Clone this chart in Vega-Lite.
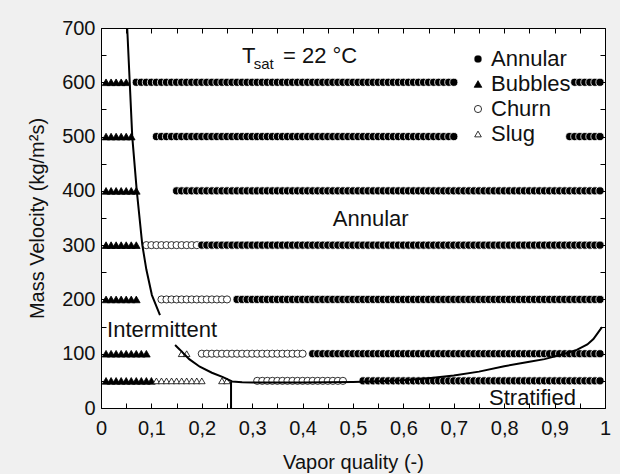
{
"$schema": "https://vega.github.io/schema/vega-lite/v6.json",
"width": 504, "height": 380,
"autosize": {"type": "none"},
"padding": {"left": 101, "top": 28, "right": 15, "bottom": 66},
"background": "#f0f0f0",
"config": {
  "view": {"stroke": "black", "strokeWidth": 1, "fill": "white"},
  "font": "Liberation Sans",
  "axis": {"labelFont": "Liberation Sans", "titleFont": "Liberation Sans", "labelFontSize": 20, "titleFontSize": 20, "titleFontWeight": "normal", "labelColor": "#111", "titleColor": "#111", "domain": false, "grid": false, "labelFlush": false, "labelOverlap": false}
},
"datasets": {
"obs": [
{"q":0.01,"G":600,"regime":"Bubbles"},{"q":0.02,"G":600,"regime":"Bubbles"},{"q":0.03,"G":600,"regime":"Bubbles"},{"q":0.04,"G":600,"regime":"Bubbles"},{"q":0.05,"G":600,"regime":"Bubbles"},
{"q":0.07,"G":600,"regime":"Annular"},{"q":0.08,"G":600,"regime":"Annular"},{"q":0.09,"G":600,"regime":"Annular"},{"q":0.10,"G":600,"regime":"Annular"},{"q":0.11,"G":600,"regime":"Annular"},{"q":0.12,"G":600,"regime":"Annular"},{"q":0.13,"G":600,"regime":"Annular"},{"q":0.14,"G":600,"regime":"Annular"},{"q":0.15,"G":600,"regime":"Annular"},{"q":0.16,"G":600,"regime":"Annular"},{"q":0.17,"G":600,"regime":"Annular"},{"q":0.18,"G":600,"regime":"Annular"},{"q":0.19,"G":600,"regime":"Annular"},{"q":0.20,"G":600,"regime":"Annular"},{"q":0.21,"G":600,"regime":"Annular"},{"q":0.22,"G":600,"regime":"Annular"},{"q":0.23,"G":600,"regime":"Annular"},{"q":0.24,"G":600,"regime":"Annular"},{"q":0.25,"G":600,"regime":"Annular"},{"q":0.26,"G":600,"regime":"Annular"},{"q":0.27,"G":600,"regime":"Annular"},{"q":0.28,"G":600,"regime":"Annular"},{"q":0.29,"G":600,"regime":"Annular"},{"q":0.30,"G":600,"regime":"Annular"},{"q":0.31,"G":600,"regime":"Annular"},{"q":0.32,"G":600,"regime":"Annular"},{"q":0.33,"G":600,"regime":"Annular"},{"q":0.34,"G":600,"regime":"Annular"},{"q":0.35,"G":600,"regime":"Annular"},{"q":0.36,"G":600,"regime":"Annular"},{"q":0.37,"G":600,"regime":"Annular"},{"q":0.38,"G":600,"regime":"Annular"},{"q":0.39,"G":600,"regime":"Annular"},{"q":0.40,"G":600,"regime":"Annular"},{"q":0.41,"G":600,"regime":"Annular"},{"q":0.42,"G":600,"regime":"Annular"},{"q":0.43,"G":600,"regime":"Annular"},{"q":0.44,"G":600,"regime":"Annular"},{"q":0.45,"G":600,"regime":"Annular"},{"q":0.46,"G":600,"regime":"Annular"},{"q":0.47,"G":600,"regime":"Annular"},{"q":0.48,"G":600,"regime":"Annular"},{"q":0.49,"G":600,"regime":"Annular"},{"q":0.50,"G":600,"regime":"Annular"},{"q":0.51,"G":600,"regime":"Annular"},{"q":0.52,"G":600,"regime":"Annular"},{"q":0.53,"G":600,"regime":"Annular"},{"q":0.54,"G":600,"regime":"Annular"},{"q":0.55,"G":600,"regime":"Annular"},{"q":0.56,"G":600,"regime":"Annular"},{"q":0.57,"G":600,"regime":"Annular"},{"q":0.58,"G":600,"regime":"Annular"},{"q":0.59,"G":600,"regime":"Annular"},{"q":0.60,"G":600,"regime":"Annular"},{"q":0.61,"G":600,"regime":"Annular"},{"q":0.62,"G":600,"regime":"Annular"},{"q":0.63,"G":600,"regime":"Annular"},{"q":0.64,"G":600,"regime":"Annular"},{"q":0.65,"G":600,"regime":"Annular"},{"q":0.66,"G":600,"regime":"Annular"},{"q":0.67,"G":600,"regime":"Annular"},{"q":0.68,"G":600,"regime":"Annular"},{"q":0.69,"G":600,"regime":"Annular"},{"q":0.70,"G":600,"regime":"Annular"},
{"q":0.94,"G":600,"regime":"Annular"},{"q":0.95,"G":600,"regime":"Annular"},{"q":0.96,"G":600,"regime":"Annular"},{"q":0.97,"G":600,"regime":"Annular"},{"q":0.98,"G":600,"regime":"Annular"},{"q":0.99,"G":600,"regime":"Annular"},
{"q":0.01,"G":500,"regime":"Bubbles"},{"q":0.02,"G":500,"regime":"Bubbles"},{"q":0.03,"G":500,"regime":"Bubbles"},{"q":0.04,"G":500,"regime":"Bubbles"},{"q":0.05,"G":500,"regime":"Bubbles"},{"q":0.06,"G":500,"regime":"Bubbles"},
{"q":0.11,"G":500,"regime":"Annular"},{"q":0.12,"G":500,"regime":"Annular"},{"q":0.13,"G":500,"regime":"Annular"},{"q":0.14,"G":500,"regime":"Annular"},{"q":0.15,"G":500,"regime":"Annular"},{"q":0.16,"G":500,"regime":"Annular"},{"q":0.17,"G":500,"regime":"Annular"},{"q":0.18,"G":500,"regime":"Annular"},{"q":0.19,"G":500,"regime":"Annular"},{"q":0.20,"G":500,"regime":"Annular"},{"q":0.21,"G":500,"regime":"Annular"},{"q":0.22,"G":500,"regime":"Annular"},{"q":0.23,"G":500,"regime":"Annular"},{"q":0.24,"G":500,"regime":"Annular"},{"q":0.25,"G":500,"regime":"Annular"},{"q":0.26,"G":500,"regime":"Annular"},{"q":0.27,"G":500,"regime":"Annular"},{"q":0.28,"G":500,"regime":"Annular"},{"q":0.29,"G":500,"regime":"Annular"},{"q":0.30,"G":500,"regime":"Annular"},{"q":0.31,"G":500,"regime":"Annular"},{"q":0.32,"G":500,"regime":"Annular"},{"q":0.33,"G":500,"regime":"Annular"},{"q":0.34,"G":500,"regime":"Annular"},{"q":0.35,"G":500,"regime":"Annular"},{"q":0.36,"G":500,"regime":"Annular"},{"q":0.37,"G":500,"regime":"Annular"},{"q":0.38,"G":500,"regime":"Annular"},{"q":0.39,"G":500,"regime":"Annular"},{"q":0.40,"G":500,"regime":"Annular"},{"q":0.41,"G":500,"regime":"Annular"},{"q":0.42,"G":500,"regime":"Annular"},{"q":0.43,"G":500,"regime":"Annular"},{"q":0.44,"G":500,"regime":"Annular"},{"q":0.45,"G":500,"regime":"Annular"},{"q":0.46,"G":500,"regime":"Annular"},{"q":0.47,"G":500,"regime":"Annular"},{"q":0.48,"G":500,"regime":"Annular"},{"q":0.49,"G":500,"regime":"Annular"},{"q":0.50,"G":500,"regime":"Annular"},{"q":0.51,"G":500,"regime":"Annular"},{"q":0.52,"G":500,"regime":"Annular"},{"q":0.53,"G":500,"regime":"Annular"},{"q":0.54,"G":500,"regime":"Annular"},{"q":0.55,"G":500,"regime":"Annular"},{"q":0.56,"G":500,"regime":"Annular"},{"q":0.57,"G":500,"regime":"Annular"},{"q":0.58,"G":500,"regime":"Annular"},{"q":0.59,"G":500,"regime":"Annular"},{"q":0.60,"G":500,"regime":"Annular"},{"q":0.61,"G":500,"regime":"Annular"},{"q":0.62,"G":500,"regime":"Annular"},{"q":0.63,"G":500,"regime":"Annular"},{"q":0.64,"G":500,"regime":"Annular"},{"q":0.65,"G":500,"regime":"Annular"},{"q":0.66,"G":500,"regime":"Annular"},{"q":0.67,"G":500,"regime":"Annular"},{"q":0.68,"G":500,"regime":"Annular"},{"q":0.69,"G":500,"regime":"Annular"},{"q":0.70,"G":500,"regime":"Annular"},
{"q":0.93,"G":500,"regime":"Annular"},{"q":0.94,"G":500,"regime":"Annular"},{"q":0.95,"G":500,"regime":"Annular"},{"q":0.96,"G":500,"regime":"Annular"},{"q":0.97,"G":500,"regime":"Annular"},{"q":0.98,"G":500,"regime":"Annular"},{"q":0.99,"G":500,"regime":"Annular"},
{"q":0.01,"G":400,"regime":"Bubbles"},{"q":0.02,"G":400,"regime":"Bubbles"},{"q":0.03,"G":400,"regime":"Bubbles"},{"q":0.04,"G":400,"regime":"Bubbles"},{"q":0.05,"G":400,"regime":"Bubbles"},{"q":0.06,"G":400,"regime":"Bubbles"},{"q":0.07,"G":400,"regime":"Bubbles"},
{"q":0.15,"G":400,"regime":"Annular"},{"q":0.16,"G":400,"regime":"Annular"},{"q":0.17,"G":400,"regime":"Annular"},{"q":0.18,"G":400,"regime":"Annular"},{"q":0.19,"G":400,"regime":"Annular"},{"q":0.20,"G":400,"regime":"Annular"},{"q":0.21,"G":400,"regime":"Annular"},{"q":0.22,"G":400,"regime":"Annular"},{"q":0.23,"G":400,"regime":"Annular"},{"q":0.24,"G":400,"regime":"Annular"},{"q":0.25,"G":400,"regime":"Annular"},{"q":0.26,"G":400,"regime":"Annular"},{"q":0.27,"G":400,"regime":"Annular"},{"q":0.28,"G":400,"regime":"Annular"},{"q":0.29,"G":400,"regime":"Annular"},{"q":0.30,"G":400,"regime":"Annular"},{"q":0.31,"G":400,"regime":"Annular"},{"q":0.32,"G":400,"regime":"Annular"},{"q":0.33,"G":400,"regime":"Annular"},{"q":0.34,"G":400,"regime":"Annular"},{"q":0.35,"G":400,"regime":"Annular"},{"q":0.36,"G":400,"regime":"Annular"},{"q":0.37,"G":400,"regime":"Annular"},{"q":0.38,"G":400,"regime":"Annular"},{"q":0.39,"G":400,"regime":"Annular"},{"q":0.40,"G":400,"regime":"Annular"},{"q":0.41,"G":400,"regime":"Annular"},{"q":0.42,"G":400,"regime":"Annular"},{"q":0.43,"G":400,"regime":"Annular"},{"q":0.44,"G":400,"regime":"Annular"},{"q":0.45,"G":400,"regime":"Annular"},{"q":0.46,"G":400,"regime":"Annular"},{"q":0.47,"G":400,"regime":"Annular"},{"q":0.48,"G":400,"regime":"Annular"},{"q":0.49,"G":400,"regime":"Annular"},{"q":0.50,"G":400,"regime":"Annular"},{"q":0.51,"G":400,"regime":"Annular"},{"q":0.52,"G":400,"regime":"Annular"},{"q":0.53,"G":400,"regime":"Annular"},{"q":0.54,"G":400,"regime":"Annular"},{"q":0.55,"G":400,"regime":"Annular"},{"q":0.56,"G":400,"regime":"Annular"},{"q":0.57,"G":400,"regime":"Annular"},{"q":0.58,"G":400,"regime":"Annular"},{"q":0.59,"G":400,"regime":"Annular"},{"q":0.60,"G":400,"regime":"Annular"},{"q":0.61,"G":400,"regime":"Annular"},{"q":0.62,"G":400,"regime":"Annular"},{"q":0.63,"G":400,"regime":"Annular"},{"q":0.64,"G":400,"regime":"Annular"},{"q":0.65,"G":400,"regime":"Annular"},{"q":0.66,"G":400,"regime":"Annular"},{"q":0.67,"G":400,"regime":"Annular"},{"q":0.68,"G":400,"regime":"Annular"},{"q":0.69,"G":400,"regime":"Annular"},{"q":0.70,"G":400,"regime":"Annular"},{"q":0.71,"G":400,"regime":"Annular"},{"q":0.72,"G":400,"regime":"Annular"},{"q":0.73,"G":400,"regime":"Annular"},{"q":0.74,"G":400,"regime":"Annular"},{"q":0.75,"G":400,"regime":"Annular"},{"q":0.76,"G":400,"regime":"Annular"},{"q":0.77,"G":400,"regime":"Annular"},{"q":0.78,"G":400,"regime":"Annular"},{"q":0.79,"G":400,"regime":"Annular"},{"q":0.80,"G":400,"regime":"Annular"},{"q":0.81,"G":400,"regime":"Annular"},{"q":0.82,"G":400,"regime":"Annular"},{"q":0.83,"G":400,"regime":"Annular"},{"q":0.84,"G":400,"regime":"Annular"},{"q":0.85,"G":400,"regime":"Annular"},{"q":0.86,"G":400,"regime":"Annular"},{"q":0.87,"G":400,"regime":"Annular"},{"q":0.88,"G":400,"regime":"Annular"},{"q":0.89,"G":400,"regime":"Annular"},{"q":0.90,"G":400,"regime":"Annular"},{"q":0.91,"G":400,"regime":"Annular"},{"q":0.92,"G":400,"regime":"Annular"},{"q":0.93,"G":400,"regime":"Annular"},{"q":0.94,"G":400,"regime":"Annular"},{"q":0.95,"G":400,"regime":"Annular"},{"q":0.96,"G":400,"regime":"Annular"},{"q":0.97,"G":400,"regime":"Annular"},{"q":0.98,"G":400,"regime":"Annular"},{"q":0.99,"G":400,"regime":"Annular"},
{"q":0.01,"G":300,"regime":"Bubbles"},{"q":0.02,"G":300,"regime":"Bubbles"},{"q":0.03,"G":300,"regime":"Bubbles"},{"q":0.04,"G":300,"regime":"Bubbles"},{"q":0.05,"G":300,"regime":"Bubbles"},{"q":0.06,"G":300,"regime":"Bubbles"},{"q":0.07,"G":300,"regime":"Bubbles"},
{"q":0.09,"G":300,"regime":"Churn"},{"q":0.10,"G":300,"regime":"Churn"},{"q":0.11,"G":300,"regime":"Churn"},{"q":0.12,"G":300,"regime":"Churn"},{"q":0.13,"G":300,"regime":"Churn"},{"q":0.14,"G":300,"regime":"Churn"},{"q":0.15,"G":300,"regime":"Churn"},{"q":0.16,"G":300,"regime":"Churn"},{"q":0.17,"G":300,"regime":"Churn"},{"q":0.18,"G":300,"regime":"Churn"},{"q":0.19,"G":300,"regime":"Churn"},
{"q":0.20,"G":300,"regime":"Annular"},{"q":0.21,"G":300,"regime":"Annular"},{"q":0.22,"G":300,"regime":"Annular"},{"q":0.23,"G":300,"regime":"Annular"},{"q":0.24,"G":300,"regime":"Annular"},{"q":0.25,"G":300,"regime":"Annular"},{"q":0.26,"G":300,"regime":"Annular"},{"q":0.27,"G":300,"regime":"Annular"},{"q":0.28,"G":300,"regime":"Annular"},{"q":0.29,"G":300,"regime":"Annular"},{"q":0.30,"G":300,"regime":"Annular"},{"q":0.31,"G":300,"regime":"Annular"},{"q":0.32,"G":300,"regime":"Annular"},{"q":0.33,"G":300,"regime":"Annular"},{"q":0.34,"G":300,"regime":"Annular"},{"q":0.35,"G":300,"regime":"Annular"},{"q":0.36,"G":300,"regime":"Annular"},{"q":0.37,"G":300,"regime":"Annular"},{"q":0.38,"G":300,"regime":"Annular"},{"q":0.39,"G":300,"regime":"Annular"},{"q":0.40,"G":300,"regime":"Annular"},{"q":0.41,"G":300,"regime":"Annular"},{"q":0.42,"G":300,"regime":"Annular"},{"q":0.43,"G":300,"regime":"Annular"},{"q":0.44,"G":300,"regime":"Annular"},{"q":0.45,"G":300,"regime":"Annular"},{"q":0.46,"G":300,"regime":"Annular"},{"q":0.47,"G":300,"regime":"Annular"},{"q":0.48,"G":300,"regime":"Annular"},{"q":0.49,"G":300,"regime":"Annular"},{"q":0.50,"G":300,"regime":"Annular"},{"q":0.51,"G":300,"regime":"Annular"},{"q":0.52,"G":300,"regime":"Annular"},{"q":0.53,"G":300,"regime":"Annular"},{"q":0.54,"G":300,"regime":"Annular"},{"q":0.55,"G":300,"regime":"Annular"},{"q":0.56,"G":300,"regime":"Annular"},{"q":0.57,"G":300,"regime":"Annular"},{"q":0.58,"G":300,"regime":"Annular"},{"q":0.59,"G":300,"regime":"Annular"},{"q":0.60,"G":300,"regime":"Annular"},{"q":0.61,"G":300,"regime":"Annular"},{"q":0.62,"G":300,"regime":"Annular"},{"q":0.63,"G":300,"regime":"Annular"},{"q":0.64,"G":300,"regime":"Annular"},{"q":0.65,"G":300,"regime":"Annular"},{"q":0.66,"G":300,"regime":"Annular"},{"q":0.67,"G":300,"regime":"Annular"},{"q":0.68,"G":300,"regime":"Annular"},{"q":0.69,"G":300,"regime":"Annular"},{"q":0.70,"G":300,"regime":"Annular"},{"q":0.71,"G":300,"regime":"Annular"},{"q":0.72,"G":300,"regime":"Annular"},{"q":0.73,"G":300,"regime":"Annular"},{"q":0.74,"G":300,"regime":"Annular"},{"q":0.75,"G":300,"regime":"Annular"},{"q":0.76,"G":300,"regime":"Annular"},{"q":0.77,"G":300,"regime":"Annular"},{"q":0.78,"G":300,"regime":"Annular"},{"q":0.79,"G":300,"regime":"Annular"},{"q":0.80,"G":300,"regime":"Annular"},{"q":0.81,"G":300,"regime":"Annular"},{"q":0.82,"G":300,"regime":"Annular"},{"q":0.83,"G":300,"regime":"Annular"},{"q":0.84,"G":300,"regime":"Annular"},{"q":0.85,"G":300,"regime":"Annular"},{"q":0.86,"G":300,"regime":"Annular"},{"q":0.87,"G":300,"regime":"Annular"},{"q":0.88,"G":300,"regime":"Annular"},{"q":0.89,"G":300,"regime":"Annular"},{"q":0.90,"G":300,"regime":"Annular"},{"q":0.91,"G":300,"regime":"Annular"},{"q":0.92,"G":300,"regime":"Annular"},{"q":0.93,"G":300,"regime":"Annular"},{"q":0.94,"G":300,"regime":"Annular"},{"q":0.95,"G":300,"regime":"Annular"},{"q":0.96,"G":300,"regime":"Annular"},{"q":0.97,"G":300,"regime":"Annular"},{"q":0.98,"G":300,"regime":"Annular"},{"q":0.99,"G":300,"regime":"Annular"},
{"q":0.01,"G":200,"regime":"Bubbles"},{"q":0.02,"G":200,"regime":"Bubbles"},{"q":0.03,"G":200,"regime":"Bubbles"},{"q":0.04,"G":200,"regime":"Bubbles"},{"q":0.05,"G":200,"regime":"Bubbles"},{"q":0.06,"G":200,"regime":"Bubbles"},{"q":0.07,"G":200,"regime":"Bubbles"},
{"q":0.12,"G":200,"regime":"Churn"},{"q":0.13,"G":200,"regime":"Churn"},{"q":0.14,"G":200,"regime":"Churn"},{"q":0.15,"G":200,"regime":"Churn"},{"q":0.16,"G":200,"regime":"Churn"},{"q":0.17,"G":200,"regime":"Churn"},{"q":0.18,"G":200,"regime":"Churn"},{"q":0.19,"G":200,"regime":"Churn"},{"q":0.20,"G":200,"regime":"Churn"},{"q":0.21,"G":200,"regime":"Churn"},{"q":0.22,"G":200,"regime":"Churn"},{"q":0.23,"G":200,"regime":"Churn"},{"q":0.24,"G":200,"regime":"Churn"},{"q":0.25,"G":200,"regime":"Churn"},
{"q":0.27,"G":200,"regime":"Annular"},{"q":0.28,"G":200,"regime":"Annular"},{"q":0.29,"G":200,"regime":"Annular"},{"q":0.30,"G":200,"regime":"Annular"},{"q":0.31,"G":200,"regime":"Annular"},{"q":0.32,"G":200,"regime":"Annular"},{"q":0.33,"G":200,"regime":"Annular"},{"q":0.34,"G":200,"regime":"Annular"},{"q":0.35,"G":200,"regime":"Annular"},{"q":0.36,"G":200,"regime":"Annular"},{"q":0.37,"G":200,"regime":"Annular"},{"q":0.38,"G":200,"regime":"Annular"},{"q":0.39,"G":200,"regime":"Annular"},{"q":0.40,"G":200,"regime":"Annular"},{"q":0.41,"G":200,"regime":"Annular"},{"q":0.42,"G":200,"regime":"Annular"},{"q":0.43,"G":200,"regime":"Annular"},{"q":0.44,"G":200,"regime":"Annular"},{"q":0.45,"G":200,"regime":"Annular"},{"q":0.46,"G":200,"regime":"Annular"},{"q":0.47,"G":200,"regime":"Annular"},{"q":0.48,"G":200,"regime":"Annular"},{"q":0.49,"G":200,"regime":"Annular"},{"q":0.50,"G":200,"regime":"Annular"},{"q":0.51,"G":200,"regime":"Annular"},{"q":0.52,"G":200,"regime":"Annular"},{"q":0.53,"G":200,"regime":"Annular"},{"q":0.54,"G":200,"regime":"Annular"},{"q":0.55,"G":200,"regime":"Annular"},{"q":0.56,"G":200,"regime":"Annular"},{"q":0.57,"G":200,"regime":"Annular"},{"q":0.58,"G":200,"regime":"Annular"},{"q":0.59,"G":200,"regime":"Annular"},{"q":0.60,"G":200,"regime":"Annular"},{"q":0.61,"G":200,"regime":"Annular"},{"q":0.62,"G":200,"regime":"Annular"},{"q":0.63,"G":200,"regime":"Annular"},{"q":0.64,"G":200,"regime":"Annular"},{"q":0.65,"G":200,"regime":"Annular"},{"q":0.66,"G":200,"regime":"Annular"},{"q":0.67,"G":200,"regime":"Annular"},{"q":0.68,"G":200,"regime":"Annular"},{"q":0.69,"G":200,"regime":"Annular"},{"q":0.70,"G":200,"regime":"Annular"},{"q":0.71,"G":200,"regime":"Annular"},{"q":0.72,"G":200,"regime":"Annular"},{"q":0.73,"G":200,"regime":"Annular"},{"q":0.74,"G":200,"regime":"Annular"},{"q":0.75,"G":200,"regime":"Annular"},{"q":0.76,"G":200,"regime":"Annular"},{"q":0.77,"G":200,"regime":"Annular"},{"q":0.78,"G":200,"regime":"Annular"},{"q":0.79,"G":200,"regime":"Annular"},{"q":0.80,"G":200,"regime":"Annular"},{"q":0.81,"G":200,"regime":"Annular"},{"q":0.82,"G":200,"regime":"Annular"},{"q":0.83,"G":200,"regime":"Annular"},{"q":0.84,"G":200,"regime":"Annular"},{"q":0.85,"G":200,"regime":"Annular"},{"q":0.86,"G":200,"regime":"Annular"},{"q":0.87,"G":200,"regime":"Annular"},{"q":0.88,"G":200,"regime":"Annular"},{"q":0.89,"G":200,"regime":"Annular"},{"q":0.90,"G":200,"regime":"Annular"},{"q":0.91,"G":200,"regime":"Annular"},{"q":0.92,"G":200,"regime":"Annular"},{"q":0.93,"G":200,"regime":"Annular"},{"q":0.94,"G":200,"regime":"Annular"},{"q":0.95,"G":200,"regime":"Annular"},{"q":0.96,"G":200,"regime":"Annular"},{"q":0.97,"G":200,"regime":"Annular"},{"q":0.98,"G":200,"regime":"Annular"},{"q":0.99,"G":200,"regime":"Annular"},
{"q":0.01,"G":100,"regime":"Bubbles"},{"q":0.02,"G":100,"regime":"Bubbles"},{"q":0.03,"G":100,"regime":"Bubbles"},{"q":0.04,"G":100,"regime":"Bubbles"},{"q":0.05,"G":100,"regime":"Bubbles"},{"q":0.06,"G":100,"regime":"Bubbles"},{"q":0.07,"G":100,"regime":"Bubbles"},{"q":0.08,"G":100,"regime":"Bubbles"},{"q":0.09,"G":100,"regime":"Bubbles"},
{"q":0.16,"G":100,"regime":"Slug"},{"q":0.17,"G":100,"regime":"Slug"},
{"q":0.20,"G":100,"regime":"Churn"},{"q":0.21,"G":100,"regime":"Churn"},{"q":0.22,"G":100,"regime":"Churn"},{"q":0.23,"G":100,"regime":"Churn"},{"q":0.24,"G":100,"regime":"Churn"},{"q":0.25,"G":100,"regime":"Churn"},{"q":0.26,"G":100,"regime":"Churn"},{"q":0.27,"G":100,"regime":"Churn"},{"q":0.28,"G":100,"regime":"Churn"},{"q":0.29,"G":100,"regime":"Churn"},{"q":0.30,"G":100,"regime":"Churn"},{"q":0.31,"G":100,"regime":"Churn"},{"q":0.32,"G":100,"regime":"Churn"},{"q":0.33,"G":100,"regime":"Churn"},{"q":0.34,"G":100,"regime":"Churn"},{"q":0.35,"G":100,"regime":"Churn"},{"q":0.36,"G":100,"regime":"Churn"},{"q":0.37,"G":100,"regime":"Churn"},{"q":0.38,"G":100,"regime":"Churn"},{"q":0.39,"G":100,"regime":"Churn"},{"q":0.40,"G":100,"regime":"Churn"},
{"q":0.42,"G":100,"regime":"Annular"},{"q":0.43,"G":100,"regime":"Annular"},{"q":0.44,"G":100,"regime":"Annular"},{"q":0.45,"G":100,"regime":"Annular"},{"q":0.46,"G":100,"regime":"Annular"},{"q":0.47,"G":100,"regime":"Annular"},{"q":0.48,"G":100,"regime":"Annular"},{"q":0.49,"G":100,"regime":"Annular"},{"q":0.50,"G":100,"regime":"Annular"},{"q":0.51,"G":100,"regime":"Annular"},{"q":0.52,"G":100,"regime":"Annular"},{"q":0.53,"G":100,"regime":"Annular"},{"q":0.54,"G":100,"regime":"Annular"},{"q":0.55,"G":100,"regime":"Annular"},{"q":0.56,"G":100,"regime":"Annular"},{"q":0.57,"G":100,"regime":"Annular"},{"q":0.58,"G":100,"regime":"Annular"},{"q":0.59,"G":100,"regime":"Annular"},{"q":0.60,"G":100,"regime":"Annular"},{"q":0.61,"G":100,"regime":"Annular"},{"q":0.62,"G":100,"regime":"Annular"},{"q":0.63,"G":100,"regime":"Annular"},{"q":0.64,"G":100,"regime":"Annular"},{"q":0.65,"G":100,"regime":"Annular"},{"q":0.66,"G":100,"regime":"Annular"},{"q":0.67,"G":100,"regime":"Annular"},{"q":0.68,"G":100,"regime":"Annular"},{"q":0.69,"G":100,"regime":"Annular"},{"q":0.70,"G":100,"regime":"Annular"},{"q":0.71,"G":100,"regime":"Annular"},{"q":0.72,"G":100,"regime":"Annular"},{"q":0.73,"G":100,"regime":"Annular"},{"q":0.74,"G":100,"regime":"Annular"},{"q":0.75,"G":100,"regime":"Annular"},{"q":0.76,"G":100,"regime":"Annular"},{"q":0.77,"G":100,"regime":"Annular"},{"q":0.78,"G":100,"regime":"Annular"},{"q":0.79,"G":100,"regime":"Annular"},{"q":0.80,"G":100,"regime":"Annular"},{"q":0.81,"G":100,"regime":"Annular"},{"q":0.82,"G":100,"regime":"Annular"},{"q":0.83,"G":100,"regime":"Annular"},{"q":0.84,"G":100,"regime":"Annular"},{"q":0.85,"G":100,"regime":"Annular"},{"q":0.86,"G":100,"regime":"Annular"},{"q":0.87,"G":100,"regime":"Annular"},{"q":0.88,"G":100,"regime":"Annular"},{"q":0.89,"G":100,"regime":"Annular"},{"q":0.90,"G":100,"regime":"Annular"},{"q":0.91,"G":100,"regime":"Annular"},{"q":0.92,"G":100,"regime":"Annular"},{"q":0.93,"G":100,"regime":"Annular"},{"q":0.94,"G":100,"regime":"Annular"},{"q":0.95,"G":100,"regime":"Annular"},{"q":0.96,"G":100,"regime":"Annular"},{"q":0.97,"G":100,"regime":"Annular"},{"q":0.98,"G":100,"regime":"Annular"},{"q":0.99,"G":100,"regime":"Annular"},
{"q":0.01,"G":50,"regime":"Bubbles"},{"q":0.02,"G":50,"regime":"Bubbles"},{"q":0.03,"G":50,"regime":"Bubbles"},{"q":0.04,"G":50,"regime":"Bubbles"},{"q":0.05,"G":50,"regime":"Bubbles"},{"q":0.06,"G":50,"regime":"Bubbles"},{"q":0.07,"G":50,"regime":"Bubbles"},{"q":0.08,"G":50,"regime":"Bubbles"},{"q":0.09,"G":50,"regime":"Bubbles"},{"q":0.10,"G":50,"regime":"Bubbles"},
{"q":0.11,"G":50,"regime":"Slug"},{"q":0.12,"G":50,"regime":"Slug"},{"q":0.13,"G":50,"regime":"Slug"},{"q":0.14,"G":50,"regime":"Slug"},{"q":0.15,"G":50,"regime":"Slug"},{"q":0.16,"G":50,"regime":"Slug"},{"q":0.17,"G":50,"regime":"Slug"},{"q":0.18,"G":50,"regime":"Slug"},{"q":0.19,"G":50,"regime":"Slug"},{"q":0.20,"G":50,"regime":"Slug"},{"q":0.24,"G":50,"regime":"Slug"},{"q":0.25,"G":50,"regime":"Slug"},
{"q":0.31,"G":50,"regime":"Churn"},{"q":0.32,"G":50,"regime":"Churn"},{"q":0.33,"G":50,"regime":"Churn"},{"q":0.34,"G":50,"regime":"Churn"},{"q":0.35,"G":50,"regime":"Churn"},{"q":0.36,"G":50,"regime":"Churn"},{"q":0.37,"G":50,"regime":"Churn"},{"q":0.38,"G":50,"regime":"Churn"},{"q":0.39,"G":50,"regime":"Churn"},{"q":0.40,"G":50,"regime":"Churn"},{"q":0.41,"G":50,"regime":"Churn"},{"q":0.42,"G":50,"regime":"Churn"},{"q":0.43,"G":50,"regime":"Churn"},{"q":0.44,"G":50,"regime":"Churn"},{"q":0.45,"G":50,"regime":"Churn"},{"q":0.46,"G":50,"regime":"Churn"},{"q":0.47,"G":50,"regime":"Churn"},{"q":0.48,"G":50,"regime":"Churn"},
{"q":0.52,"G":50,"regime":"Annular"},{"q":0.53,"G":50,"regime":"Annular"},{"q":0.54,"G":50,"regime":"Annular"},{"q":0.55,"G":50,"regime":"Annular"},{"q":0.56,"G":50,"regime":"Annular"},{"q":0.57,"G":50,"regime":"Annular"},{"q":0.58,"G":50,"regime":"Annular"},{"q":0.59,"G":50,"regime":"Annular"},{"q":0.60,"G":50,"regime":"Annular"},{"q":0.61,"G":50,"regime":"Annular"},{"q":0.62,"G":50,"regime":"Annular"},{"q":0.63,"G":50,"regime":"Annular"},{"q":0.64,"G":50,"regime":"Annular"},{"q":0.65,"G":50,"regime":"Annular"},{"q":0.66,"G":50,"regime":"Annular"},{"q":0.67,"G":50,"regime":"Annular"},{"q":0.68,"G":50,"regime":"Annular"},{"q":0.69,"G":50,"regime":"Annular"},{"q":0.70,"G":50,"regime":"Annular"},{"q":0.71,"G":50,"regime":"Annular"},{"q":0.72,"G":50,"regime":"Annular"},{"q":0.73,"G":50,"regime":"Annular"},{"q":0.74,"G":50,"regime":"Annular"},{"q":0.75,"G":50,"regime":"Annular"},{"q":0.76,"G":50,"regime":"Annular"},{"q":0.77,"G":50,"regime":"Annular"},{"q":0.78,"G":50,"regime":"Annular"},{"q":0.79,"G":50,"regime":"Annular"},{"q":0.80,"G":50,"regime":"Annular"},{"q":0.81,"G":50,"regime":"Annular"},{"q":0.82,"G":50,"regime":"Annular"},{"q":0.83,"G":50,"regime":"Annular"},{"q":0.84,"G":50,"regime":"Annular"},{"q":0.85,"G":50,"regime":"Annular"},{"q":0.86,"G":50,"regime":"Annular"},{"q":0.87,"G":50,"regime":"Annular"},{"q":0.88,"G":50,"regime":"Annular"},{"q":0.89,"G":50,"regime":"Annular"},{"q":0.90,"G":50,"regime":"Annular"},{"q":0.91,"G":50,"regime":"Annular"},{"q":0.92,"G":50,"regime":"Annular"},{"q":0.93,"G":50,"regime":"Annular"},{"q":0.94,"G":50,"regime":"Annular"},{"q":0.95,"G":50,"regime":"Annular"},{"q":0.96,"G":50,"regime":"Annular"},{"q":0.97,"G":50,"regime":"Annular"},{"q":0.98,"G":50,"regime":"Annular"},{"q":0.99,"G":50,"regime":"Annular"}
],
"curves": [
{"q":0.052,"G":700,"seg":"a","ord":1},{"q":0.057,"G":600,"seg":"a","ord":2},{"q":0.062,"G":500,"seg":"a","ord":3},{"q":0.071,"G":400,"seg":"a","ord":4},{"q":0.082,"G":300,"seg":"a","ord":5},{"q":0.09,"G":255,"seg":"a","ord":6},{"q":0.101,"G":208,"seg":"a","ord":7},{"q":0.117,"G":171,"seg":"a","ord":8},
{"q":0.147,"G":116,"seg":"b","ord":1},{"q":0.157,"G":107,"seg":"b","ord":2},{"q":0.175,"G":90,"seg":"b","ord":3},{"q":0.196,"G":76,"seg":"b","ord":4},{"q":0.22,"G":65,"seg":"b","ord":5},{"q":0.242,"G":57,"seg":"b","ord":6},{"q":0.26,"G":49,"seg":"b","ord":7},{"q":0.28,"G":47.5,"seg":"b","ord":8},{"q":0.30,"G":47,"seg":"b","ord":9},{"q":0.35,"G":47,"seg":"b","ord":10},{"q":0.40,"G":47,"seg":"b","ord":11},{"q":0.45,"G":47.5,"seg":"b","ord":12},{"q":0.50,"G":48,"seg":"b","ord":13},{"q":0.55,"G":49.5,"seg":"b","ord":14},{"q":0.60,"G":51,"seg":"b","ord":15},{"q":0.65,"G":55,"seg":"b","ord":16},{"q":0.70,"G":60,"seg":"b","ord":17},{"q":0.75,"G":67,"seg":"b","ord":18},{"q":0.80,"G":77,"seg":"b","ord":19},{"q":0.85,"G":85,"seg":"b","ord":20},{"q":0.88,"G":90,"seg":"b","ord":21},{"q":0.92,"G":100,"seg":"b","ord":22},{"q":0.944,"G":107,"seg":"b","ord":23},{"q":0.965,"G":117,"seg":"b","ord":24},{"q":0.977,"G":127,"seg":"b","ord":25},{"q":0.994,"G":149,"seg":"b","ord":26},
{"q":0.258,"G":0,"seg":"v","ord":1},{"q":0.258,"G":48,"seg":"v","ord":2}
],
"notes": [
{"q":0.46,"G":336,"label":"Annular"},
{"q":0.012,"G":131,"label":"Intermittent"},
{"q":0.77,"G":5.5,"label":"Stratified"},
{"q":0.28,"G":635,"label":"T"},
{"q":0.361,"G":635,"label":"= 22 °C"}
],
"subs": [
{"q":0.303,"G":625,"label":"sat"}
]
},
"layer": [
{
 "data": {"name": "obs"},
 "mark": {"type": "point", "filled": true, "strokeWidth": 0.8, "opacity": 1},
 "encoding": {
  "x": {"field": "q", "type": "quantitative", "scale": {"domain": [0, 1], "nice": false},
        "axis": {"orient": "bottom", "title": "Vapor quality (-)", "values": [0,0.05,0.1,0.15,0.2,0.25,0.3,0.35,0.4,0.45,0.5,0.55,0.6,0.65,0.7,0.75,0.8,0.85,0.9,0.95,1],
                 "ticks": true, "tickSize": 5, "tickColor": "black", "tickWidth": 1, "offset": -5, "zindex": 1,
                 "labelExpr": "round(datum.value*20)%2==1 ? '' : (datum.value==0 ? '0' : (datum.value==1 ? '1' : replace(format(datum.value,'.1f'),'.',',')))",
                 "labelPadding": 10, "titlePadding": 14}},
  "y": {"field": "G", "type": "quantitative", "scale": {"domain": [0, 700], "nice": false},
        "axis": {"orient": "left", "title": "Mass Velocity (kg/m²s)", "values": [0,50,100,150,200,250,300,350,400,450,500,550,600,650,700],
                 "ticks": true, "tickSize": 5, "tickColor": "black", "tickWidth": 1, "offset": -5, "zindex": 1,
                 "labelExpr": "datum.value%100==0 ? datum.label : ''", "labelPadding": 6, "titlePadding": 14}},
  "shape": {"field": "regime", "type": "nominal", "scale": {"domain": ["Annular","Bubbles","Churn","Slug"], "range": ["circle","triangle-up","circle","triangle-up"]},
            "legend": {"orient": "none", "legendX": 366, "legendY": 20, "title": null, "labelFontSize": 22, "labelFont": "Liberation Sans", "labelColor": "#111", "rowPadding": 3, "labelOffset": 2, "padding": 0, "symbolStrokeWidth": 0.8}},
  "fill": {"field": "regime", "type": "nominal", "scale": {"domain": ["Annular","Bubbles","Churn","Slug"], "range": ["black","black","white","white"]}},
  "stroke": {"field": "regime", "type": "nominal", "scale": {"domain": ["Annular","Bubbles","Churn","Slug"], "range": ["white","black","black","black"]}},
  "size": {"field": "regime", "type": "nominal", "scale": {"domain": ["Annular","Bubbles","Churn","Slug"], "range": [66,44,26,34]}}
 }
},
{
 "data": {"name": "curves"},
 "mark": {"type": "line", "color": "black", "strokeWidth": 2},
 "encoding": {
  "x": {"field": "q", "type": "quantitative", "axis": {"orient": "top", "labels": false, "title": null, "ticks": true, "tickSize": 5, "tickColor": "black", "tickWidth": 1, "offset": -5, "zindex": 1, "values": [0,0.05,0.1,0.15,0.2,0.25,0.3,0.35,0.4,0.45,0.5,0.55,0.6,0.65,0.7,0.75,0.8,0.85,0.9,0.95,1]}},
  "y": {"field": "G", "type": "quantitative", "axis": {"orient": "right", "labels": false, "title": null, "ticks": true, "tickSize": 5, "tickColor": "black", "tickWidth": 1, "offset": -5, "zindex": 1, "values": [0,50,100,150,200,250,300,350,400,450,500,550,600,650,700]}},
  "detail": {"field": "seg"},
  "order": {"field": "ord", "type": "quantitative"}
 }
},
{
 "data": {"name": "notes"},
 "mark": {"type": "text", "align": "left", "baseline": "alphabetic", "fontSize": 22, "font": "Liberation Sans", "color": "#111"},
 "encoding": {
  "x": {"field": "q", "type": "quantitative", "axis": null},
  "y": {"field": "G", "type": "quantitative", "axis": null},
  "text": {"field": "label"}
 }
},
{
 "data": {"name": "subs"},
 "mark": {"type": "text", "align": "left", "baseline": "alphabetic", "fontSize": 15, "font": "Liberation Sans", "color": "#111"},
 "encoding": {
  "x": {"field": "q", "type": "quantitative", "axis": null},
  "y": {"field": "G", "type": "quantitative", "axis": null},
  "text": {"field": "label"}
 }
}
],
"resolve": {"axis": {"x": "independent", "y": "independent"}}
}
